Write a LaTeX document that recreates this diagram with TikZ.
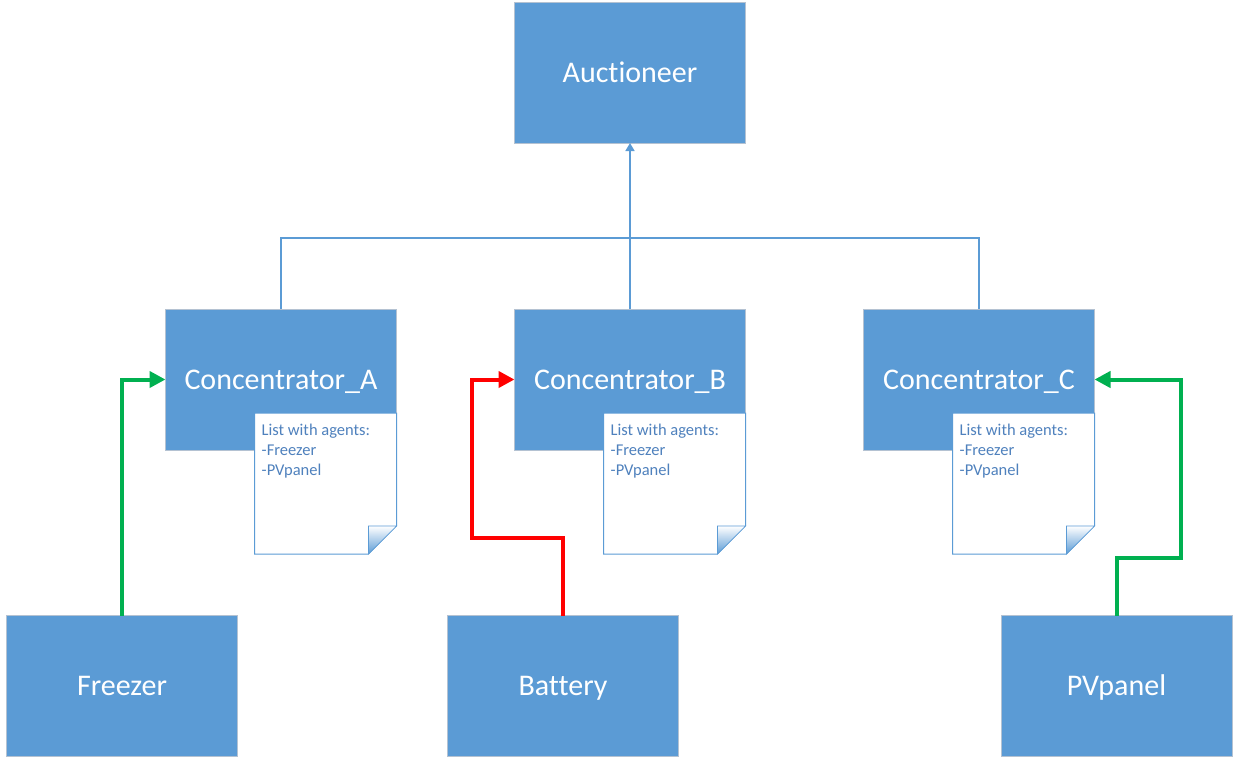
\documentclass[tikz,border=0pt]{standalone}
\usepackage{fontspec}
\setmainfont[Ligatures=NoCommon]{Carlito}
\usepackage{xcolor}
\usetikzlibrary{arrows.meta,positioning,calc}
\definecolor{boxblue}{HTML}{5B9BD5}
\definecolor{boxedge}{HTML}{B4C2D2}
\definecolor{notetext}{HTML}{4F81BD}
\definecolor{okgreen}{HTML}{00B050}
\tikzset{
  agent/.style={draw=boxedge, fill=boxblue, text=white, line width=1pt, outer sep=0pt,
    minimum width=231pt, minimum height=141pt, text height=19.5pt, text depth=0pt,
    font=\fontsize{30}{35}\selectfont},
  paper/.style={draw=boxblue, fill=white, line width=1pt},
  listtext/.style={anchor=north west, align=left, text=notetext, inner xsep=7pt, inner ysep=10.5pt,
    font=\fontsize{16.5}{20}\selectfont},
  tree/.style={draw=boxblue, line width=1.5pt},
  link/.style={line width=4pt, -{Triangle[length=16pt,width=16pt]}}
}
% agent list sheet hanging under a concentrator
\newcommand{\agentsheet}[1]{%
  \coordinate (#1n) at ($(#1.south east)+(-142,-37)$);
  \draw[paper] (#1n) -- ++(142,0) -- ++(0,113) -- ++(-28,28) -- ++(-114,0) -- cycle;
  \shade[top color=white, bottom color=boxblue, draw=boxblue, line width=0.6pt]
    ($(#1n)+(114,113)$) -- ++(28,0) -- ++(-28,28) -- cycle;
  \node[listtext] (#1list) at (#1n) {List with agents:\\-Freezer\\-PVpanel};
}

\begin{document}
\begin{tikzpicture}[x=1pt, y=-1pt]
  \useasboundingbox (0,0) rectangle (1240,766);

  \node[agent] (auct) at (630,72.5) {Auctioneer};

  \node[agent] (cb) at (630,379.5) {Concentrator\_B};
  \node[agent, left=118pt of cb] (ca) {Concentrator\_A};
  \node[agent, right=118pt of cb] (cc) {Concentrator\_C};

  \node[agent] (freezer) at (122,686) {Freezer};
  \node[agent] (battery) at (563,686) {Battery};
  \node[agent] (pv) at (1116.5,686) {PVpanel};

  \agentsheet{ca}
  \agentsheet{cb}
  \agentsheet{cc}

  \draw[tree] (ca.north) -- ++(0,-71) -| (cc.north);
  \draw[tree, -{Triangle[length=8pt,width=9pt]}] (cb.north) -- (auct.south);

  \draw[link, okgreen] (freezer.north) |- (ca.west);
  \draw[link, red] (battery.north) -- ++(0,-78) -- ++(-91,0) |- (cb.west);
  \draw[link, okgreen] (pv.north) -- ++(0,-58) -- ++(64,0) |- (cc.east);
\end{tikzpicture}
\end{document}
